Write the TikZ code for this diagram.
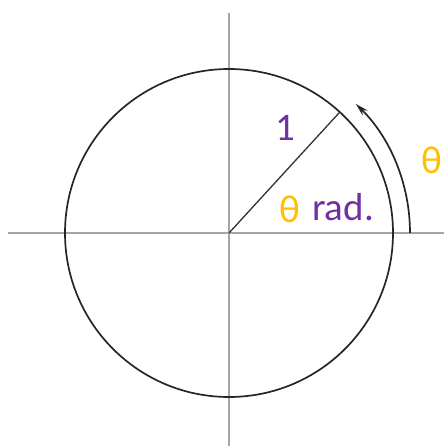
\documentclass[tikz,border=0pt]{standalone}
\usepackage{fontspec}
\setmainfont{Carlito}
\usetikzlibrary{arrows.meta,calc}
\definecolor{axisgray}{RGB}{165,165,165}
\definecolor{thetaorange}{RGB}{255,192,0}
\definecolor{labelpurple}{RGB}{112,48,160}
\tikzset{
  axisline/.style={draw=axisgray, line width=2.6pt},
  circleline/.style={draw=black!85, line width=1.7pt},
  radiusline/.style={draw=black!80, line width=1.3pt},
  arcarrow/.style={draw=black!85, line width=1.7pt, -{Stealth[length=13pt,width=7pt]}},
  lbl/.style={inner sep=0pt, font=\fontsize{39}{40}\selectfont},
}
\begin{document}
\begin{tikzpicture}[x=1pt,y=1pt]
\useasboundingbox (0,0) rectangle (444,-446);
\coordinate (c) at (229,-233);
\coordinate (axL) at (8,-233);
\coordinate (axR) at (444,-233);
\coordinate (axT) at (229,-13);
\coordinate (axB) at (229,-446);
\draw[axisline] (axL) -- (axR);
\draw[axisline] (axT) -- (axB);
\draw[circleline] (c) circle[radius=164];
\coordinate (p) at ($(c)+(47.5:164)$);
\draw[radiusline] (c) -- (p);
\coordinate (a0) at ($(c)+(0:181)$);
\draw[arcarrow] (a0) arc[start angle=0, end angle=45.5, radius=181];
\node[lbl, text=labelpurple] (one) at (285,-128) {1};
\node[lbl, text=thetaorange] (th1) at (290,-209) {θ};
\node[lbl, text=labelpurple] (rad) at (343,-207) {rad.};
\node[lbl, text=thetaorange] (th2) at (432,-160) {θ};
\end{tikzpicture}
\end{document}
